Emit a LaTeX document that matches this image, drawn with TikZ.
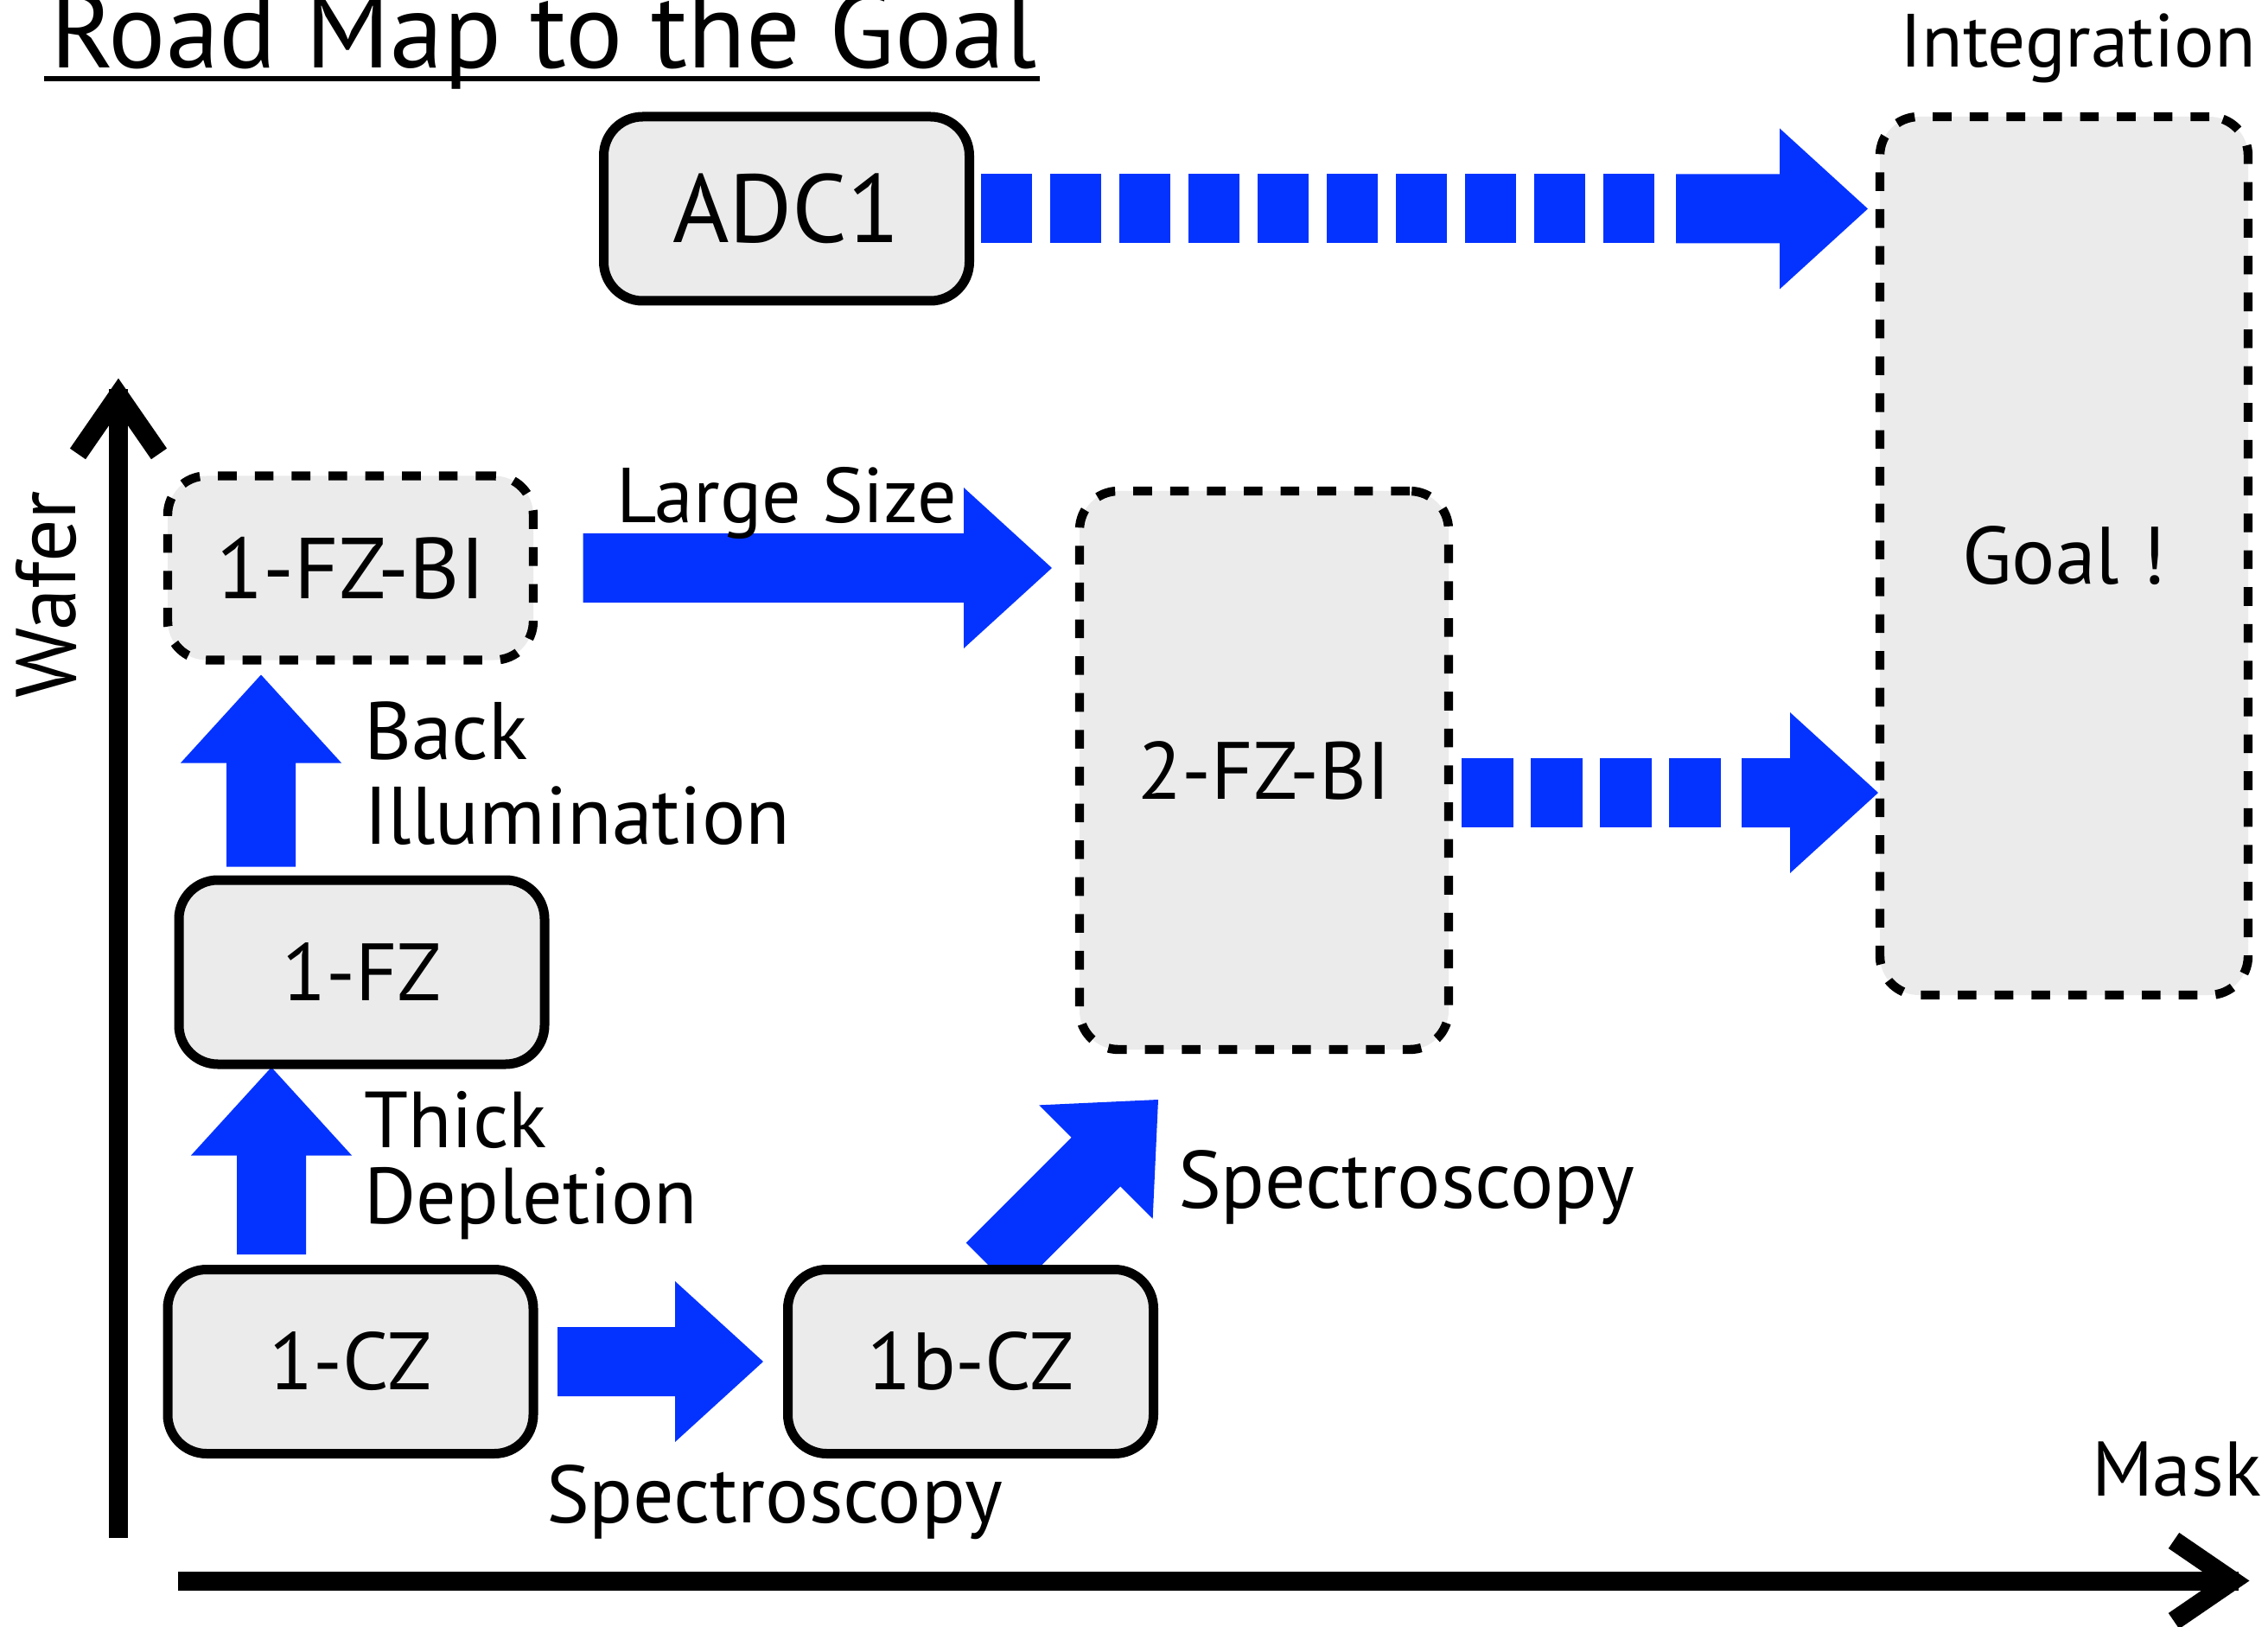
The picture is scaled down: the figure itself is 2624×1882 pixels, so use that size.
\documentclass[tikz,border=0pt]{standalone}
\usepackage{fontspec}
\setmainfont{PT Sans}
\usetikzlibrary{calc}

\definecolor{flowblue}{RGB}{4,51,255}
\definecolor{boxgray}{RGB}{235,235,235}

\pgfdeclarelayer{back}
\pgfsetlayers{back,main}

% Block arrow from coordinate #1 to tip #2: shaft 20pt wide, head 46.5pt wide, 25.5pt long
\newcommand\blockarrow[2]{%
  \coordinate (ba-h) at ($(#2)!25.5pt!(#1)$);
  \fill[flowblue]
    ($(#1)!10pt!90:(#2)$) -- ($(ba-h)!10pt!90:(#2)$) -- ($(ba-h)!23.25pt!90:(#2)$)
    -- (#2)
    -- ($(ba-h)!23.25pt!-90:(#2)$) -- ($(ba-h)!10pt!-90:(#2)$) -- ($(#1)!10pt!-90:(#2)$)
    -- cycle;
}

\tikzset{
  stage/.style={draw, line width=2.75pt, fill=boxgray, rounded corners=11.25pt,
    minimum width=105.75pt, minimum height=53.25pt, inner sep=0pt, outer sep=0pt,
    font=\fontsize{23.5pt}{28pt}\selectfont},
  planned/.style={dash pattern=on 5.4pt off 5.25pt, line width=2.6pt},
  note/.style={anchor=base west, inner sep=0pt, outer sep=0pt,
    font=\fontsize{23.5pt}{28pt}\selectfont},
  axisline/.style={line width=5.5pt, line cap=butt, line join=miter},
  blocks/.style={flowblue, line width=20pt},
}

\begin{document}
\begin{tikzpicture}[x=0.25pt, y=-0.25pt]
\useasboundingbox (0,0) rectangle (2624,1882);

% stages
\node[stage, font=\fontsize{28pt}{32pt}\selectfont] (adc) at (910,241.5) {ADC1};
\node[stage, planned, font=\fontsize{25pt}{30pt}\selectfont] (fzbi) at (405.5,657) {1-FZ-BI};
\node[stage] (fz) at (418.5,1124.5) {1-FZ};
\node[stage] (cz) at (405.5,1575) {1-CZ};
\node[stage] (bcz) at (1123,1575) {1b-CZ};
\node[stage, planned, minimum width=106.75pt, minimum height=161.5pt] (fzbi2) at (1462.5,891) {2-FZ-BI};
\node[stage, planned, minimum width=106.5pt, minimum height=254pt] (goal) at (2388,643) {Goal !};

% arrows between stages
\begin{pgfonlayer}{back}
  % ADC1 -> Goal (planned)
  \coordinate (a1) at ($(adc.east)+(13.5,0)$);
  \coordinate (a2) at ($(adc.east)+(792.5,0)$);
  \coordinate (a3) at ($(adc.east)+(817.5,0)$);
  \coordinate (a4) at ($(goal.west |- adc.east)+(-14,0)$);
  \draw[blocks, dash pattern=on 14.75pt off 5.25pt] (a1) -- (a2);
  \blockarrow{a3}{a4}
  % 2-FZ-BI -> Goal (planned)
  \coordinate (f1) at ($(fzbi2.east)+(15,26)$);
  \coordinate (f2) at ($(fzbi2.east)+(315,26)$);
  \coordinate (f3) at ($(fzbi2.east)+(339,26)$);
  \coordinate (f4) at ($(goal.west |- f1)+(-2,0)$);
  \draw[blocks, dash pattern=on 15pt off 5pt] (f1) -- (f2);
  \blockarrow{f3}{f4}
  % 1-FZ-BI -> 2-FZ-BI
  \coordinate (l1) at ($(fzbi.east)+(57.5,0)$);
  \coordinate (l2) at ($(fzbi2.west |- fzbi.east)+(-32,0)$);
  \blockarrow{l1}{l2}
  % 1-FZ -> 1-FZ-BI
  \coordinate (b1) at ($(fz.north)+(-116.5,-15.5)$);
  \coordinate (b2) at ($(b1 |- fzbi.south)+(0,17)$);
  \blockarrow{b1}{b2}
  % 1-CZ -> 1-FZ
  \coordinate (t1) at ($(cz.north)+(-91.5,-17.5)$);
  \coordinate (t2) at ($(t1 |- fz.south)+(0,3.5)$);
  \blockarrow{t1}{t2}
  % 1-CZ -> 1b-CZ
  \coordinate (s1) at ($(cz.east)+(28,0)$);
  \coordinate (s2) at ($(bcz.west)+(-28.5,0)$);
  \blockarrow{s1}{s2}
  % 1b-CZ -> 2-FZ-BI
  \coordinate (d1) at ($(bcz.north)+(23,-2.5)$);
  \coordinate (d2) at ($(fzbi2.south)+(-122.5,58)$);
  \blockarrow{d1}{d2}
\end{pgfonlayer}

% axes
\draw[axisline] (137,1779) -- (137,450);
\draw[axisline] (90,525) -- (137,457) -- (184,525);
\draw[axisline] (206,1828.5) -- (2590,1828.5);
\draw[axisline] (2515,1782) -- (2583,1828.5) -- (2515,1875);

% labels
\node[note, font=\fontsize{31pt}{36pt}\selectfont] (title) at (58,79) {Road Map to the Goal};
\draw[line width=1.4pt] ($(title.base west)+(-7,12)$) -- ($(title.base east)+(3,12)$);
\node[note, font=\fontsize{21.8pt}{26pt}\selectfont] (integ) at (2198,78) {Integration};
\node[note, rotate=90, font=\fontsize{24.5pt}{28pt}\selectfont] (wafer) at (87,807) {Wafer};
\node[note, font=\fontsize{22.4pt}{27pt}\selectfont] (mask) at (2420,1730) {Mask};
\node[note] (spec1) at (632,1761) {Spectroscopy};
\node[note] (spec2) at (1363,1397) {Spectroscopy};
\node[note, font=\fontsize{22.5pt}{27pt}\selectfont] (large) at (713,605) {Large Size};
\node[note, font=\fontsize{23.6pt}{28pt}\selectfont] (back) at (421,878) {Back};
\node[note, font=\fontsize{23.6pt}{28pt}\selectfont] (illum) at (421,976) {Illumination};
\node[note, font=\fontsize{23pt}{28pt}\selectfont] (thick) at (421,1327) {Thick};
\node[note, font=\fontsize{23pt}{28pt}\selectfont] (depl) at (421,1415) {Depletion};
\end{tikzpicture}
\end{document}
